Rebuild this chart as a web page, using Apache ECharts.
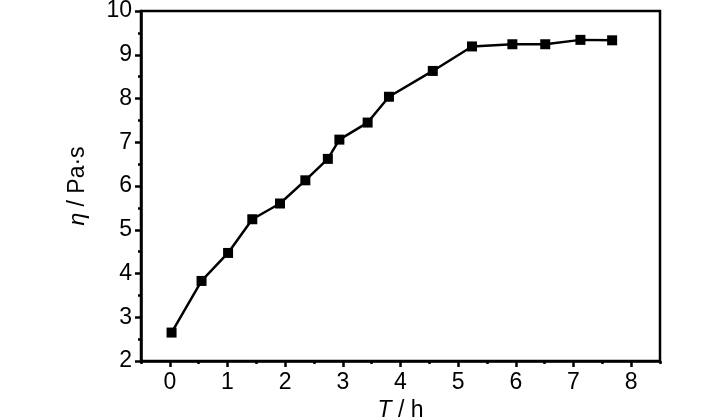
<!DOCTYPE html>
<html>
<head>
<meta charset="utf-8">
<script src="https://cdn.jsdelivr.net/npm/echarts@6/dist/echarts.min.js"></script>
<style>
  html, body { margin: 0; padding: 0; background: #fff; }
  #chart { width: 728px; height: 420px; }
</style>
</head>
<body>
<div id="chart"></div>
<script>
// 粘度随时间变化
const timeH = [0.03, 0.55, 1.01, 1.43, 1.91, 2.35, 2.74, 2.94, 3.43, 3.80, 4.56, 5.24, 5.94, 6.51, 7.12, 7.67];
const viscosity = [2.65, 3.83, 4.47, 5.24, 5.60, 6.13, 6.62, 7.06, 7.45, 8.04, 8.63, 9.19, 9.24, 9.24, 9.34, 9.33];
const xTicks = [0, 1, 2, 3, 4, 5, 6, 7, 8];

const font = "'Liberation Sans Narrow', 'Arial Narrow', 'Liberation Sans', Arial, sans-serif";
const black = "#000";
const box = { left: 141, right: 68, top: 11, bottom: 59, outerBoundsMode: "none" };

let chart = echarts.init(document.getElementById("chart"));

chart.setOption({
  animation: false,
  grid: [
    Object.assign({ show: true, borderColor: black, borderWidth: 2.5 }, box),
    // 第二个网格只画 x 轴的小刻度
    Object.assign({ show: false }, box)
  ],
  xAxis: [
    {
      type: "value",
      gridIndex: 0,
      min: -0.5, max: 8.5, interval: 0.5,
      name: "{i|T} / h",
      nameLocation: "middle",
      nameGap: 38,
      nameTextStyle: {
        fontFamily: font, fontSize: 23, color: black,
        rich: { i: { fontFamily: font, fontSize: 23, fontStyle: "italic", color: black } }
      },
      axisLine: { show: true, onZero: false, lineStyle: { color: black, width: 2.5 } },
      axisTick: { show: true, customValues: xTicks, length: 6, lineStyle: { color: black, width: 2.5 } },
      axisLabel: { customValues: xTicks, fontFamily: font, fontSize: 23, color: black, margin: 10 },
      splitLine: { show: false }
    },
    {
      type: "value",
      gridIndex: 1,
      position: "bottom",
      min: -0.5, max: 8.5, interval: 0.5,
      axisLine: { show: false, onZero: false },
      axisTick: { show: true, length: 3, lineStyle: { color: black, width: 2.5 } },
      axisLabel: { show: false },
      splitLine: { show: false }
    }
  ],
  yAxis: [
    {
      type: "value",
      gridIndex: 0,
      min: 2, max: 10, interval: 1,
      name: "{i|η} / Pa·s",
      nameLocation: "middle",
      nameGap: 52,
      nameTextStyle: {
        fontFamily: font, fontSize: 23, color: black,
        rich: { i: { fontFamily: font, fontSize: 23, fontStyle: "italic", color: black } }
      },
      axisLine: { show: true, onZero: false, lineStyle: { color: black, width: 2.5 } },
      axisTick: { show: true, length: 6, lineStyle: { color: black, width: 2.5 } },
      minorTick: { show: true, splitNumber: 2, length: 3, lineStyle: { color: black, width: 2.5 } },
      axisLabel: { fontFamily: font, fontSize: 23, color: black, margin: 9 },
      splitLine: { show: false }
    },
    {
      type: "value",
      gridIndex: 1,
      min: 2, max: 10,
      show: false
    }
  ],
  series: [
    {
      type: "line",
      xAxisIndex: 0,
      yAxisIndex: 0,
      data: timeH.map((t, i) => [t, viscosity[i]]),
      symbol: "rect",
      symbolSize: 10,
      lineStyle: { color: black, width: 2.5 },
      itemStyle: { color: black }
    }
  ]
});
</script>
</body>
</html>
